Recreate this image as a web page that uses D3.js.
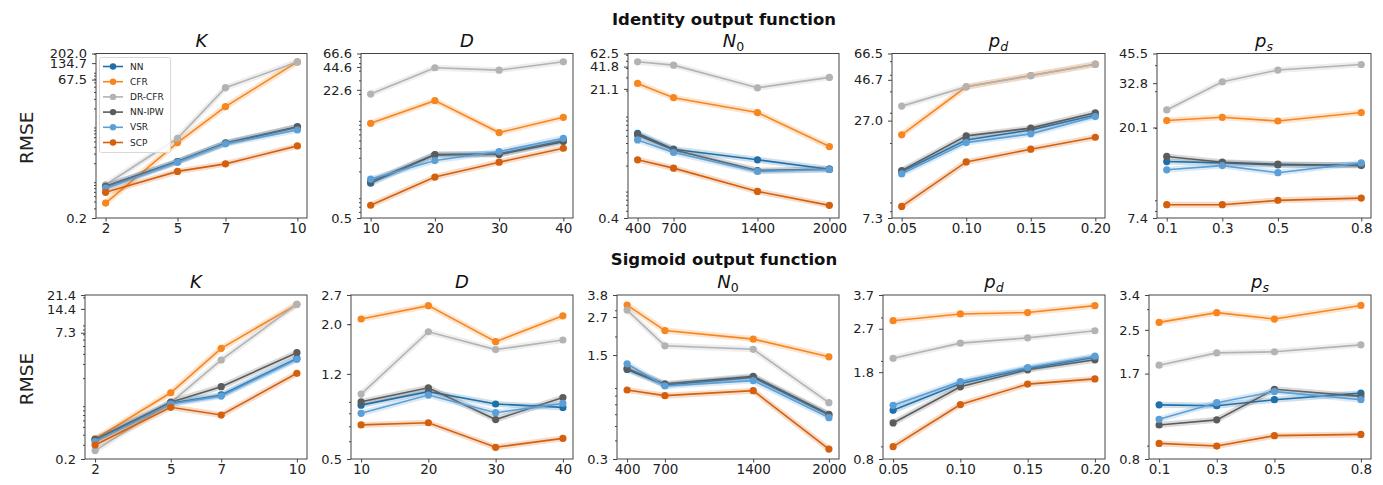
<!DOCTYPE html>
<html><head><meta charset="utf-8">
<script src="https://cdn.jsdelivr.net/npm/d3@7"></script>
<style>body{margin:0;background:#fff} svg{display:block} text{font-family:"DejaVu Sans",sans-serif}</style>
</head><body><svg id="c" width="1383" height="485"></svg>
<script>
// ---------- DATA ----------
const methods = ["NN","CFR","DR-CFR","NN-IPW","VSR","SCP"];
const colors  = ["#1f6fa8","#f7861e","#b3b3b3","#5c5c5c","#5b9fd6","#d4600e"];
const rowTitles = ["Identity output function","Sigmoid output function"];

const xK  = [2,5,7,10];
const xD  = [10,20,30,40];
const xN0 = [400,700,1400,2000];
const xPd = [0.05,0.10,0.15,0.20];
const xPs = [0.1,0.3,0.5,0.8];
const xLabK  = ["2","5","7","10"];
const xLabD  = ["10","20","30","40"];
const xLabN0 = ["400","700","1400","2000"];
const xLabPd = ["0.05","0.10","0.15","0.20"];
const xLabPs = ["0.1","0.3","0.5","0.8"];

const yLabIdK  = ["0.2","67.5","134.7","202.0"];
const yLabIdD  = ["0.5","22.6","44.6","66.6"];
const yLabIdN0 = ["0.4","21.1","41.8","62.5"];
const yLabIdPd = ["7.3","27.0","46.7","66.5"];
const yLabIdPs = ["7.4","20.1","32.8","45.5"];
const yLabSgK  = ["0.2","7.3","14.4","21.4"];
const yLabSgD  = ["0.5","1.2","2.0","2.7"];
const yLabSgN0 = ["0.3","1.5","2.7","3.8"];
const yLabSgPd = ["0.8","1.8","2.7","3.7"];
const yLabSgPs = ["0.8","1.7","2.5","3.4"];

const idK  = {"NN":[0.75,2.15,4.64,9.1],"CFR":[0.375,4.78,21.6,142],"DR-CFR":[0.81,5.72,47.9,142],"NN-IPW":[0.76,2.15,4.7,9.3],"VSR":[0.70,2.09,4.52,8.1],"SCP":[0.59,1.42,1.95,4.15]};
const idD  = {"NN":[1.41,3.27,3.37,5.0],"CFR":[8.36,16.4,6.34,9.99],"DR-CFR":[19.95,43.6,40.6,52.0],"NN-IPW":[1.48,3.3,3.3,4.85],"VSR":[1.59,2.76,3.61,5.36],"SCP":[0.73,1.69,2.63,3.98]};
const idN0 = {"NN":[5.39,3.31,2.39,1.79],"CFR":[24.9,16.1,10.2,3.59],"DR-CFR":[48.4,43.7,21.8,30.0],"NN-IPW":[5.13,3.24,1.72,1.79],"VSR":[4.40,2.99,1.67,1.77],"SCP":[2.39,1.85,0.905,0.59]};
const idPd = {"NN":[13.6,20.8,23.8,29.1],"CFR":[22.3,42.5,49.5,57.6],"DR-CFR":[32.8,42.5,49.3,57.6],"NN-IPW":[13.8,22.0,24.4,30.0],"VSR":[13.2,20.1,22.6,28.5],"SCP":[8.53,15.5,18.4,21.6]};
const idPs = {"NN":[13.8,13.6,13.3,13.3],"CFR":[21.7,22.5,21.6,23.7],"DR-CFR":[24.4,33.3,37.9,40.3],"NN-IPW":[14.6,13.7,13.4,13.2],"VSR":[12.6,13.2,12.2,13.6],"SCP":[8.57,8.57,8.99,9.22]};
const sgK  = {"NN":[0.344,0.977,1.24,3.52],"CFR":[0.354,1.32,4.68,16.4],"DR-CFR":[0.254,1.0,3.36,16.4],"NN-IPW":[0.35,1.01,1.57,4.14],"VSR":[0.328,0.959,1.20,3.42],"SCP":[0.298,0.872,0.70,2.30]};
const sgD  = {"NN":[0.87,1.00,0.88,0.85],"CFR":[2.11,2.42,1.67,2.18],"DR-CFR":[0.975,1.85,1.54,1.70],"NN-IPW":[0.90,1.04,0.75,0.94],"VSR":[0.80,0.965,0.805,0.886],"SCP":[0.71,0.726,0.564,0.618]};
const sgN0 = {"NN":[1.20,0.943,1.06,0.593],"CFR":[3.25,2.19,1.92,1.46],"DR-CFR":[3.01,1.73,1.64,0.718],"NN-IPW":[1.22,0.96,1.08,0.60],"VSR":[1.31,0.929,1.01,0.569],"SCP":[0.873,0.80,0.864,0.35]};
const sgPd = {"NN":[1.26,1.62,1.86,2.07],"CFR":[2.91,3.10,3.14,3.35],"DR-CFR":[2.05,2.36,2.48,2.65],"NN-IPW":[1.12,1.57,1.84,2.02],"VSR":[1.32,1.65,1.88,2.09],"SCP":[0.898,1.33,1.61,1.69]};
const sgPs = {"NN":[1.29,1.28,1.35,1.43],"CFR":[2.67,2.91,2.75,3.10],"DR-CFR":[1.83,2.04,2.06,2.19],"NN-IPW":[1.08,1.13,1.48,1.39],"VSR":[1.135,1.315,1.45,1.35],"SCP":[0.918,0.897,0.983,0.994]};

// ---------- LAYOUT ----------
const svg = d3.select("#c");
const rowY = [[53.5,218],[295,459]];
const colX = [
  [[96,307],[361,573],[628,839],[892,1105],[1157,1371]],
  [[85,307],[351,573],[617,839],[883,1105],[1149,1371]]
];
const titleBase = [47, 288];
const supBase = [25, 265];
const TICKFONT = 13;

const panels = [
  [ {x:xK,xl:xLabK,yl:yLabIdK,d:idK,t:"K"}, {x:xD,xl:xLabD,yl:yLabIdD,d:idD,t:"D"}, {x:xN0,xl:xLabN0,yl:yLabIdN0,d:idN0,t:"N0"}, {x:xPd,xl:xLabPd,yl:yLabIdPd,d:idPd,t:"pd"}, {x:xPs,xl:xLabPs,yl:yLabIdPs,d:idPs,t:"ps"} ],
  [ {x:xK,xl:xLabK,yl:yLabSgK,d:sgK,t:"K"}, {x:xD,xl:xLabD,yl:yLabSgD,d:sgD,t:"D"}, {x:xN0,xl:xLabN0,yl:yLabSgN0,d:sgN0,t:"N0"}, {x:xPd,xl:xLabPd,yl:yLabSgPd,d:sgPd,t:"pd"}, {x:xPs,xl:xLabPs,yl:yLabSgPs,d:sgPs,t:"ps"} ]
];

function minorTicks(lo, hi){
  const out=[];
  for(let k=Math.floor(Math.log10(lo))-1;k<=Math.ceil(Math.log10(hi));k++){
    for(let m=2;m<=9;m++){const v=m*Math.pow(10,k); if(v>=lo*0.999 && v<=hi*1.001) out.push(v);}
  }
  return out;
}

function drawTitle(g, cx, base, t){
  const txt = g.append("text").attr("x",cx).attr("y",base).attr("text-anchor","middle").attr("font-size",18).attr("fill","#111");
  if(t.length===1){ txt.append("tspan").attr("font-style","italic").text(t); }
  else {
    txt.append("tspan").attr("font-style","italic").text(t[0]);
    txt.append("tspan").attr("font-size",12.5).attr("dy",4).attr("font-style", t[1]==="0"?"normal":"italic").text(t[1]);
  }
}

panels.forEach((row, r) => {
  const [y0,y1] = rowY[r];
  svg.append("text").attr("x",724).attr("y",supBase[r]).attr("text-anchor","middle")
     .attr("font-size",16.5).attr("font-weight","bold").attr("fill","#111").text(rowTitles[r]);
  svg.append("text").attr("transform",`translate(33,${(y0+y1)/2+2}) rotate(-90)`).attr("text-anchor","middle")
     .attr("font-size",18.5).attr("fill","#222").text("RMSE");

  row.forEach((p, c) => {
    const [x0,x1] = colX[r][c];
    const g = svg.append("g");
    const xmin=d3.min(p.x), xmax=d3.max(p.x), pad=(xmax-xmin)*0.05;
    const x = d3.scaleLinear().domain([xmin-pad, xmax+pad]).range([x0,x1]);
    const yv = p.yl.map(Number);
    const y = d3.scaleLog().domain([yv[0], yv[3]]).range([y1,y0]);

    methods.forEach((m, i) => {
      const pts = p.x.map((xx,j)=>[x(xx), y(p.d[m][j])]);
      const line = d3.line();
      g.append("path").attr("d",line(pts)).attr("fill","none").attr("stroke",colors[i])
        .attr("stroke-width",6).attr("stroke-opacity",0.22).attr("stroke-linejoin","round").attr("stroke-linecap","round");
      g.append("path").attr("d",line(pts)).attr("fill","none").attr("stroke",colors[i]).attr("stroke-width",1.6);
      g.selectAll(null).data(pts).enter().append("circle").attr("cx",d=>d[0]).attr("cy",d=>d[1]).attr("r",3.6).attr("fill",colors[i]);
    });

    g.append("rect").attr("x",x0).attr("y",y0).attr("width",x1-x0).attr("height",y1-y0)
      .attr("fill","none").attr("stroke","#444").attr("stroke-width",1);

    const ya = g.append("g").attr("transform",`translate(${x0},0)`)
      .call(d3.axisLeft(y).tickValues(yv).tickFormat((d,i)=>p.yl[i]).tickSize(4).tickPadding(5).tickSizeOuter(0));
    ya.select(".domain").remove();
    ya.selectAll("line").attr("stroke","#444");
    ya.selectAll("text").attr("font-size",TICKFONT).attr("font-family","DejaVu Sans").attr("fill","#222");
    const ym = g.append("g").attr("transform",`translate(${x0},0)`)
      .call(d3.axisLeft(y).tickValues(minorTicks(yv[0],yv[3])).tickFormat("").tickSize(2).tickSizeOuter(0));
    ym.select(".domain").remove();
    ym.selectAll("line").attr("stroke","#444");

    const xa = g.append("g").attr("transform",`translate(0,${y1})`)
      .call(d3.axisBottom(x).tickValues(p.x).tickFormat((d,i)=>p.xl[i]).tickSize(3.5).tickPadding(2).tickSizeOuter(0));
    xa.select(".domain").remove();
    xa.selectAll("line").attr("stroke","#444");
    xa.selectAll("text").attr("font-size",TICKFONT+0.5).attr("font-family","DejaVu Sans").attr("fill","#222");

    drawTitle(svg, (x0+x1)/2, titleBase[r], p.t);

    if(r===0 && c===0){
      const lg = svg.append("g");
      lg.append("rect").attr("x",99.5).attr("y",57.5).attr("width",71).attr("height",95).attr("rx",2)
        .attr("fill","#fff").attr("fill-opacity",0.85).attr("stroke","#d8d8d8");
      methods.forEach((m,i)=>{
        const yy = 66.5 + i*15.2;
        lg.append("line").attr("x1",103).attr("x2",123).attr("y1",yy).attr("y2",yy).attr("stroke",colors[i]).attr("stroke-width",1.6);
        lg.append("circle").attr("cx",113).attr("cy",yy).attr("r",3.2).attr("fill",colors[i]);
        lg.append("text").attr("x",130).attr("y",yy).attr("dy","0.35em").attr("font-size",9).attr("fill","#222").text(m);
      });
    }
  });
});
</script></body></html>
